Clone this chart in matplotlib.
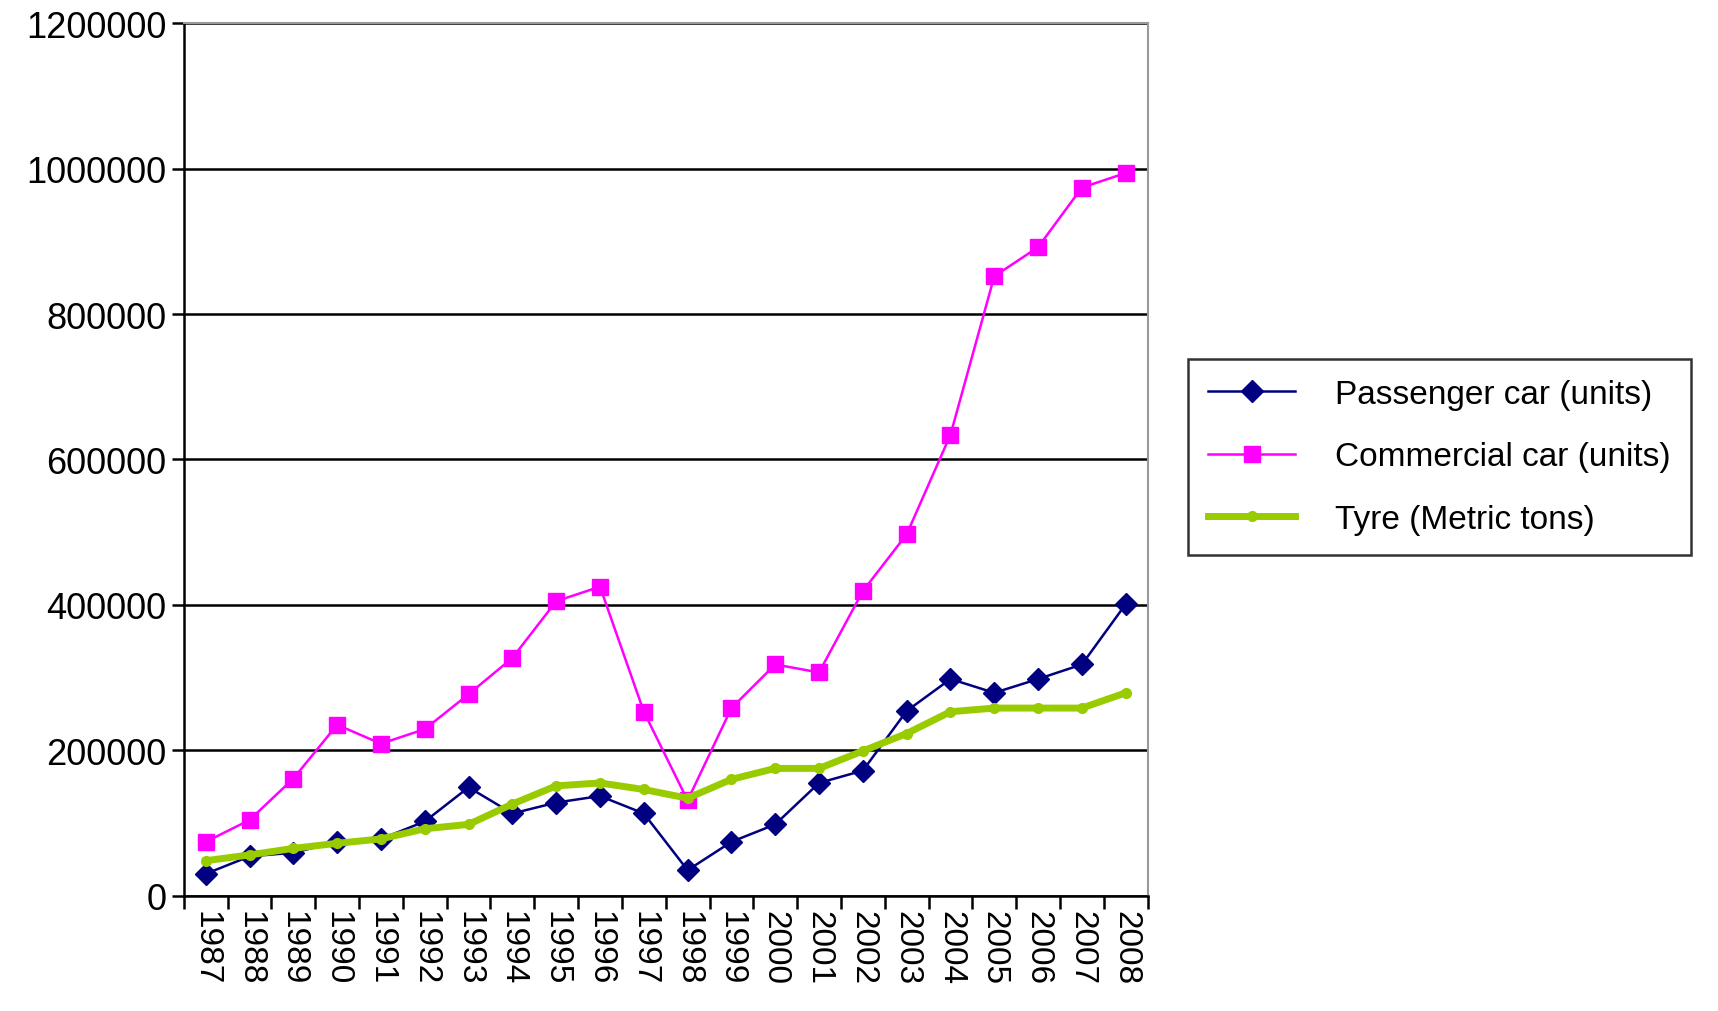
import numpy as np
import matplotlib.pyplot as plt
from matplotlib.ticker import FixedLocator

years = [str(y) for y in range(1987, 2009)]
passenger = [30000, 54000, 59000, 74000, 78000, 102000, 149000, 113000, 128000, 137000, 113000,
             35000, 74000, 98000, 155000, 172000, 254000, 298000, 279000, 298000, 318000, 401000]
commercial = [74000, 104000, 161000, 235000, 209000, 229000, 277000, 327000, 405000, 425000, 253000,
              131000, 258000, 318000, 307000, 419000, 497000, 634000, 852000, 892000, 974000, 994000]
tyre = [48000, 56000, 65000, 72000, 78000, 92000, 98000, 126000, 151000, 155000, 146000,
        134000, 160000, 175000, 175000, 199000, 223000, 253000, 258000, 258000, 258000, 279000]

plt.rcParams['font.family'] = ['Liberation Sans', 'DejaVu Sans']
fig = plt.figure(figsize=(17.18, 10.12), dpi=100)
ax = fig.add_axes([0.107, 0.114, 0.561, 0.862])
x = np.arange(len(years))

ax.plot(x, passenger, color='#000080', marker='D', markersize=11, lw=1.8, label='Passenger car (units)')
ax.plot(x, commercial, color='#FF00FF', marker='s', markersize=12, lw=1.8, label='Commercial car (units)')
ax.plot(x, tyre, color='#99CC00', marker='o', markersize=7, lw=5, label='Tyre (Metric tons)')

ax.set_xlim(-0.5, len(years) - 0.5)
ax.set_ylim(0, 1200000)
ax.set_yticks(np.arange(0, 1200001, 200000))
ax.set_yticklabels([str(v) for v in range(0, 1200001, 200000)], fontsize=26)
ax.yaxis.grid(True, color='black', lw=1.8)
ax.set_axisbelow(True)

ax.set_xticks(x)
ax.set_xticklabels(years, rotation=270, fontsize=24)
ax.tick_params(axis='x', length=0, pad=10)
ax.xaxis.set_minor_locator(FixedLocator(np.arange(-0.5, len(years), 1)))
ax.tick_params(axis='x', which='minor', length=9, width=1.8)
ax.tick_params(axis='y', length=9, width=1.8)

for s in ['top', 'right']:
    ax.spines[s].set_color('#999999')
    ax.spines[s].set_linewidth(1.5)
for s in ['left', 'bottom']:
    ax.spines[s].set_color('black')
    ax.spines[s].set_linewidth(1.8)

leg = ax.legend(loc='center left', bbox_to_anchor=(1.025, 0.503), fontsize=24, frameon=True,
                fancybox=False, edgecolor='black', handlelength=2.6, handletextpad=1.2,
                labelspacing=0.95, borderpad=0.6)
leg.get_frame().set_linewidth(1.8)

fig.savefig('out.png', dpi=100)
